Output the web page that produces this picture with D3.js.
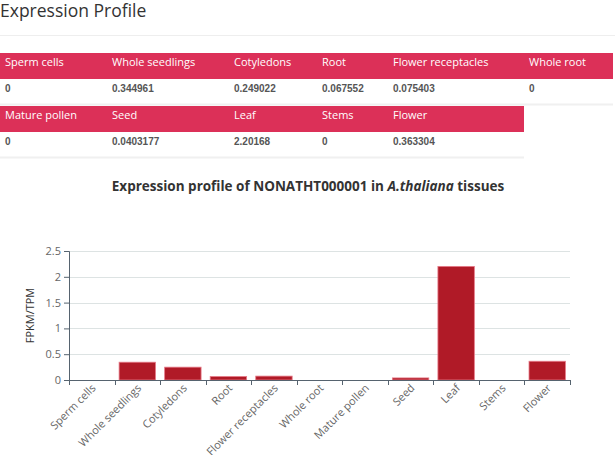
<!DOCTYPE html>
<html>
<head>
<meta charset="utf-8">
<script src="https://cdn.jsdelivr.net/npm/d3@7"></script>
<style>
  body { margin: 0; background: #fff; }
  svg { display: block; }
</style>
</head>
<body>
<div id="chart"></div>
<script>
// tissues and values as shown in the table and chart
const tissues = ['Sperm cells', 'Whole seedlings', 'Cotyledons', 'Root', 'Flower receptacles',
    'Whole root', 'Mature pollen', 'Seed', 'Leaf', 'Stems', 'Flower'];
const values = [0, 0.344961, 0.249022, 0.067552, 0.075403, 0, 0, 0.0403177, 2.20168, 0, 0.363304];
const valueLabels = ['0', '0.344961', '0.249022', '0.067552', '0.075403', '0',
    '0', '0.0403177', '2.20168', '0', '0.363304'];
const yTicks = [0, 0.5, 1, 1.5, 2, 2.5];

const width = 615, height = 455;
const headerColor = '#dc3058';
const barColor = '#b01a27';
const font = '"Open Sans", sans-serif';

let svg = d3.select('#chart').append('svg')
    .attr('width', width)
    .attr('height', height);

// page heading
svg.append('text')
    .attr('x', 0).attr('y', 17)
    .attr('font-family', font)
    .attr('font-size', 17.5)
    .attr('fill', '#333')
    .text('Expression Profile');
svg.append('line')
    .attr('x1', 0).attr('x2', width)
    .attr('y1', 35.5).attr('y2', 35.5)
    .attr('stroke', '#eee');

// the two table blocks (6 + 5 columns)
const colX = [5, 112, 234, 322, 393, 529];
const blocks = [
    {start: 0, end: 6, top: 53, right: 613},
    {start: 6, end: 11, top: 106, right: 524},
];
blocks.forEach(b => {
    let g = svg.append('g').attr('transform', `translate(0,${b.top})`);
    g.append('rect')
        .attr('x', 0).attr('y', 0)
        .attr('width', b.right).attr('height', 26)
        .attr('fill', headerColor);
    g.append('line')
        .attr('x1', 0).attr('x2', b.right)
        .attr('y1', 51.5).attr('y2', 51.5)
        .attr('stroke', '#f0f0f0')
        .attr('stroke-width', 2);
    let idx = d3.range(b.start, b.end);
    g.selectAll('text.head')
        .data(idx)
        .join('text')
        .attr('class', 'head')
        .attr('x', (d, i) => colX[i])
        .attr('y', 13)
        .attr('font-family', font)
        .attr('font-size', 11)
        .attr('fill', '#fff')
        .text(d => tissues[d]);
    g.selectAll('text.val')
        .data(idx)
        .join('text')
        .attr('class', 'val')
        .attr('x', (d, i) => colX[i])
        .attr('y', 39)
        .attr('font-family', '"Liberation Sans", Arial, sans-serif')
        .attr('font-weight', 'bold')
        .attr('font-size', 10)
        .attr('fill', '#555')
        .text(d => valueLabels[d]);
});

// chart title
let title = svg.append('text')
    .attr('x', 308).attr('y', 191)
    .attr('text-anchor', 'middle')
    .attr('font-family', font)
    .attr('font-size', 13.5)
    .attr('font-weight', 'bold')
    .attr('fill', '#333');
title.append('tspan').text('Expression profile of NONATHT000001 in ');
title.append('tspan').attr('font-style', 'italic').text('A.thaliana');
title.append('tspan').text(' tissues');

// bar chart
const ml = 69, mr = 570, mt = 251, mb = 380;
let X = d3.scaleBand()
    .domain(tissues)
    .range([ml, mr])
    .paddingInner(0.2)
    .paddingOuter(0.1);
let Y = d3.scaleLinear()
    .domain([0, 2.5])
    .range([mb, mt]);

svg.append('g').attr('class', 'y-grid')
    .selectAll('line')
    .data(yTicks.slice(1))
    .join('line')
    .attr('x1', ml).attr('x2', mr)
    .attr('y1', d => Math.round(Y(d)) + 0.5)
    .attr('y2', d => Math.round(Y(d)) + 0.5)
    .attr('stroke', '#dde3e3')
    .attr('stroke-width', 1.2);

svg.append('g').attr('class', 'bars')
    .selectAll('rect')
    .data(values)
    .join('rect')
    .attr('x', (d, i) => X(tissues[i]))
    .attr('width', X.bandwidth())
    .attr('y', d => Y(d))
    .attr('height', d => Y(0) - Y(d))
    .attr('fill', barColor)
    .attr('stroke', d => d > 0 ? '#e77a88' : 'none')
    .attr('stroke-width', 0.8);

const axisColor = '#56636f';
let yAxis = svg.append('g')
    .attr('transform', `translate(${ml},0)`)
    .call(d3.axisLeft(Y).tickValues(yTicks).tickSize(5).tickPadding(3).tickFormat(d3.format('')));
yAxis.select('.domain').attr('stroke', axisColor);
yAxis.selectAll('.tick line').attr('stroke', axisColor);
yAxis.selectAll('.tick text')
    .attr('font-family', font)
    .attr('font-size', 11)
    .attr('fill', '#666');

// band edges carry the x tick marks
let edges = tissues.map(t => X(t) - X.step() * X.paddingInner() / 2);
edges[0] = ml;
edges.push(mr);
let xAxis = svg.append('g').attr('class', 'x-axis');
xAxis.append('line')
    .attr('x1', ml).attr('x2', mr)
    .attr('y1', mb + 0.5).attr('y2', mb + 0.5)
    .attr('stroke', axisColor);
xAxis.selectAll('line.tick')
    .data(edges)
    .join('line')
    .attr('class', 'tick')
    .attr('x1', d => Math.round(d) + 0.5).attr('x2', d => Math.round(d) + 0.5)
    .attr('y1', mb).attr('y2', mb + 5)
    .attr('stroke', axisColor);
xAxis.selectAll('text')
    .data(tissues)
    .join('text')
    .attr('transform', d => `translate(${X(d) + X.bandwidth() / 2 + 2},${mb + 6}) rotate(-45)`)
    .attr('text-anchor', 'end')
    .attr('dy', '0.35em')
    .attr('font-family', font)
    .attr('font-size', 11)
    .attr('fill', '#666')
    .text(d => d);

svg.append('text')
    .attr('transform', `translate(34,${(mt + mb) / 2}) rotate(-90)`)
    .attr('text-anchor', 'middle')
    .attr('font-family', font)
    .attr('font-size', 11)
    .attr('fill', '#333')
    .text('FPKM/TPM');
</script>
</body>
</html>
